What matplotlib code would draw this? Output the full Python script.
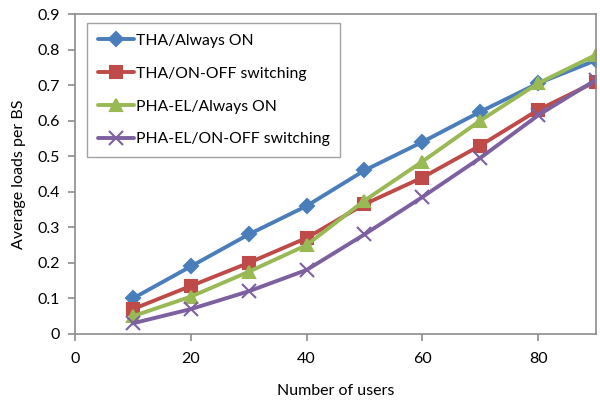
import matplotlib.pyplot as plt

plt.rcParams['font.family'] = ['Lato', 'DejaVu Sans']

users = [10, 20, 30, 40, 50, 60, 70, 80, 90]
tha_always_on = [0.10, 0.19, 0.28, 0.36, 0.46, 0.54, 0.625, 0.705, 0.77]
tha_on_off = [0.07, 0.135, 0.20, 0.27, 0.365, 0.44, 0.53, 0.63, 0.71]
phael_always_on = [0.05, 0.105, 0.175, 0.25, 0.375, 0.485, 0.60, 0.705, 0.785]
phael_on_off = [0.03, 0.07, 0.12, 0.18, 0.28, 0.385, 0.495, 0.615, 0.715]

labels = ["THA/Always ON", "THA/ON-OFF switching",
          "PHA-EL/Always ON", "PHA-EL/ON-OFF switching"]
colors = ["#4a7ebb", "#be4b48", "#98b954", "#7d60a0"]
markers = ["D", "s", "^", "x"]
msizes = [7, 9, 9, 10]

fig = plt.figure(figsize=(6, 4.07), dpi=100)
ax = fig.add_axes([0.125, 0.1794, 0.8683, 0.7862])

for y, lab, c, m, ms in zip([tha_always_on, tha_on_off, phael_always_on, phael_on_off],
                            labels, colors, markers, msizes):
    ax.plot(users, y, color=c, lw=2.8, marker=m, ms=ms, mew=1.5,
            mec=c, mfc=c, label=lab, solid_capstyle='round')

ax.set_xlim(0, 90)
ax.set_ylim(0, 0.9)
ax.set_xticks([0, 20, 40, 60, 80])
ax.set_yticks([0, 0.1, 0.2, 0.3, 0.4, 0.5, 0.6, 0.7, 0.8, 0.9])
ax.set_yticklabels(["0", "0.1", "0.2", "0.3", "0.4", "0.5", "0.6", "0.7", "0.8", "0.9"])

for s in ax.spines.values():
    s.set_color("#8c8c8c")
    s.set_linewidth(1.2)
ax.tick_params(direction='out', length=5, width=1.2, color="#8c8c8c",
               labelsize=11.5, labelcolor="black")
ax.tick_params(axis='x', pad=8)
ax.tick_params(axis='y', pad=6)

ax.set_xlabel("Number of users", fontsize=11.5, labelpad=13)
ax.set_ylabel("Average loads per BS", fontsize=11.5, labelpad=8)

leg = ax.legend(loc='upper left', bbox_to_anchor=(0.023, 0.972), fontsize=11.3,
                frameon=True, fancybox=False, handlelength=2.3,
                labelspacing=1.2, borderpad=0.7, handletextpad=0.1,
                borderaxespad=0)
leg.get_frame().set_edgecolor("#8c8c8c")
leg.get_frame().set_linewidth(1.0)

fig.savefig("out.png", dpi=100)
